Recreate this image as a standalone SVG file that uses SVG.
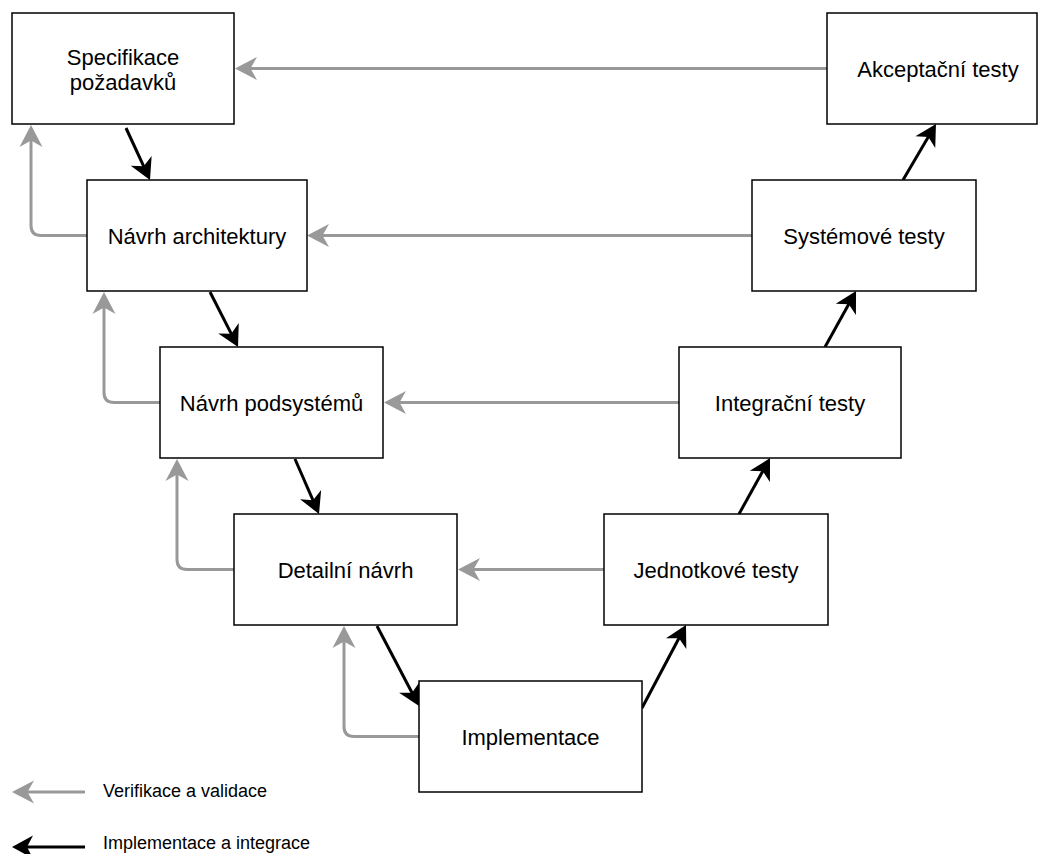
<svg xmlns="http://www.w3.org/2000/svg" width="1038" height="854" viewBox="0 0 1038 854">
<style>
.box{fill:#fff;stroke:#000;stroke-width:1.5}
.t{font-family:"Liberation Sans",Arial,sans-serif;font-size:22px;fill:#000;text-anchor:middle}
.lg{font-family:"Liberation Sans",Arial,sans-serif;font-size:18px;fill:#000}
.g{fill:none;stroke:#999;stroke-width:3}
.k{fill:none;stroke:#000;stroke-width:3}
</style>
<defs>
<marker id="ag" markerUnits="userSpaceOnUse" markerWidth="28" markerHeight="28" viewBox="-14 -14 28 28" refX="0" refY="0" orient="auto" overflow="visible">
<path d="M10,0 L-12,-11.5 L-5.5,0 L-12,11.5 Z" fill="#999"/>
</marker>
<marker id="ak" markerUnits="userSpaceOnUse" markerWidth="28" markerHeight="28" viewBox="-14 -14 28 28" refX="0" refY="0" orient="auto" overflow="visible">
<path d="M10,0 L-11,-11.5 L-5,0 L-11,11.5 Z" fill="#000"/>
</marker>
</defs>
<rect width="1038" height="854" fill="#fff"/>
<g id="connectors">
<path class="g" d="M827,68.5 H245" marker-end="url(#ag)"/>
<path class="g" d="M752,235.5 H317" marker-end="url(#ag)"/>
<path class="g" d="M679,402.5 H394" marker-end="url(#ag)"/>
<path class="g" d="M604,569.5 H468" marker-end="url(#ag)"/>
<path class="g" d="M87,235.5 H41 Q31,235.5 31,225.5 V135" marker-end="url(#ag)"/>
<path class="g" d="M160,402.5 H114 Q104,402.5 104,392.5 V302" marker-end="url(#ag)"/>
<path class="g" d="M234,569.5 H187 Q177,569.5 177,559.5 V469" marker-end="url(#ag)"/>
<path class="g" d="M419,736.5 H354 Q344,736.5 344,726.5 V636" marker-end="url(#ag)"/>
<path class="k" d="M126,128 L145.8,170.9" marker-end="url(#ak)"/>
<path class="k" d="M210,292 L233.5,338.1" marker-end="url(#ak)"/>
<path class="k" d="M295,459 L315,504.8" marker-end="url(#ak)"/>
<path class="k" d="M377,626 L414.4,697.2" marker-end="url(#ak)"/>
<path class="k" d="M642,708 L681.3,633.8" marker-end="url(#ak)"/>
<path class="k" d="M739,514 L765.2,466.8" marker-end="url(#ak)"/>
<path class="k" d="M825,347 L851.2,299.8" marker-end="url(#ak)"/>
<path class="k" d="M903,180 L930.9,132.6" marker-end="url(#ak)"/>
</g>
<g id="spec">
<rect class="box" x="12" y="13" width="222" height="111"/>
<text class="t" x="123" y="64.5">Specifikace</text>
<text class="t" x="123" y="89.5">požadavků</text>
</g>
<g id="arch">
<rect class="box" x="87" y="180" width="220" height="111"/>
<text class="t" x="197" y="243.5">Návrh architektury</text>
</g>
<g id="podsys">
<rect class="box" x="160" y="347" width="223" height="111"/>
<text class="t" x="271.5" y="410.5">Návrh podsystémů</text>
</g>
<g id="detail">
<rect class="box" x="234" y="514" width="223" height="111"/>
<text class="t" x="345.5" y="577.5">Detailní návrh</text>
</g>
<g id="impl">
<rect class="box" x="419" y="681" width="223" height="111"/>
<text class="t" x="530.5" y="744.5">Implementace</text>
</g>
<g id="jednotkove">
<rect class="box" x="604" y="514" width="224" height="111"/>
<text class="t" x="716" y="577.5">Jednotkové testy</text>
</g>
<g id="integracni">
<rect class="box" x="679" y="347" width="222" height="111"/>
<text class="t" x="790" y="410.5">Integrační testy</text>
</g>
<g id="systemove">
<rect class="box" x="752" y="180" width="224" height="111"/>
<text class="t" x="864" y="243.5">Systémové testy</text>
</g>
<g id="akceptacni">
<rect class="box" x="827" y="13" width="210" height="111"/>
<text class="t" x="938" y="76.5">Akceptační testy</text>
</g>
<g id="legend">
<path class="g" d="M85,792 H22" marker-end="url(#ag)"/>
<text class="lg" x="103" y="797">Verifikace a validace</text>
<path class="k" d="M85,847 H22" marker-end="url(#ak)"/>
<text class="lg" x="103" y="849">Implementace a integrace</text>
</g>
</svg>
